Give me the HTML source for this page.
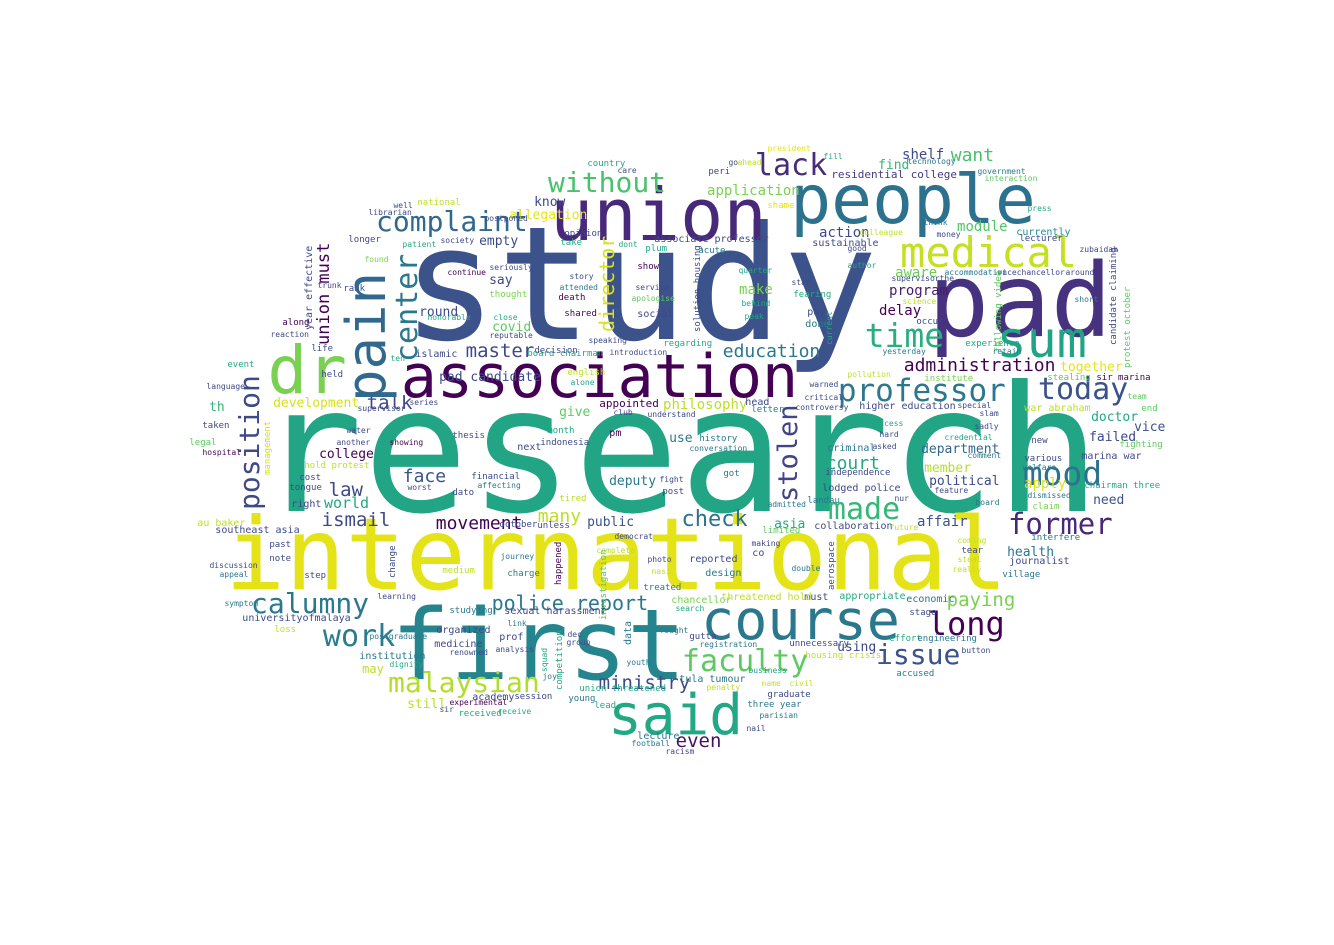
<!DOCTYPE html>
<html>
<head>
<meta charset="utf-8">
<style>
html,body{margin:0;padding:0;background:#fff;}
#cloud{position:relative;width:1334px;height:945px;overflow:hidden;background:#fff;}
#cloud span{position:absolute;white-space:pre;line-height:1;font-family:"DejaVu Sans Mono","Liberation Mono",monospace;}
</style>
</head>
<body>
<div id="cloud"></div>
<script>
// word data: [text, x, baseline, size, color]
const horizontalWords = [
['research',270,512,175,'#21a585'],
['international',232,590,100,'#e4e318'],
['study',413,340,158,'#3b528b'],
['first',398,680,98,'#25858e'],
['pad',935,337,102,'#46327e'],
['people',795,225,68,'#2c728e'],
['union',555,240,72,'#482878'],
['association',405,398,60,'#440154'],
['course',705,640,55,'#2a788e'],
['said',612,735,56,'#22a884'],
['medical',903,268,42,'#c5e021'],
['sum',1000,357,50,'#20a486'],
['dr',272,394,66,'#7ad151'],
['professor',840,402,31,'#2a788e'],
['time',867,347,33,'#29af7f'],
['today',1040,400,30,'#3b528b'],
['mood',1025,485,33,'#2c728e'],
['former',1010,535,29,'#482878'],
['long',930,635,32,'#440154'],
['issue',878,665,28,'#3b528b'],
['faculty',684,672,30,'#5ec962'],
['made',830,520,30,'#35b779'],
['lack',757,176,30,'#472c7a'],
['without',550,193,28,'#4ac16d'],
['complaint',378,232,28,'#31688e'],
['calumny',253,614,28,'#2a788e'],
['work',325,647,30,'#287d8e'],
['malaysian',390,693,28,'#b2dd2d'],
['check',683,528,22,'#2c728e'],
['ministry',600,690,19,'#3e4989'],
['police report',493,610,20,'#2a788e'],
['even',677,748,19,'#471063'],
['administration',905,372,18,'#440154'],
['education',724,358,18,'#2a788e'],
['master',467,358,19,'#3e4989'],
['talk',368,410,19,'#3e4989'],
['face',404,483,18,'#3b528b'],
['movement',437,530,18,'#440154'],
['ismail',323,527,19,'#3e4989'],
['law',330,497,19,'#3e4989'],
['world',325,509,15,'#22a884'],
['many',539,523,18,'#bddf26'],
['court',827,470,18,'#22a884'],
['paying',948,607,19,'#7ad151'],
['want',952,162,18,'#4ac16d'],
['philosophy',664,410,14,'#bddf26'],
['application',708,196,14,'#7ad151'],
['shelf',903,160,14,'#3e4a89'],
['find',879,170,13,'#35b779'],
['residential college',832,178,11,'#443a83'],
['action',820,238,14,'#3e4989'],
['module',958,232,14,'#52c569'],
['currently',1017,236,10,'#21908d'],
['sustainable',813,247,10,'#3e4989'],
['aware',896,278,14,'#6ccd5a'],
['program',890,296,14,'#481b6d'],
['delay',880,316,14,'#440154'],
['together',1061,372,13,'#e5e419'],
['department',922,454,13,'#31688e'],
['member',925,473,13,'#b5de2b'],
['political',930,486,13,'#3e4989'],
['affair',918,527,14,'#3b528b'],
['health',1008,557,13,'#2a788e'],
['apply',1025,489,14,'#d8e219'],
['need',1094,505,13,'#3b528b'],
['failed',1090,442,13,'#3e4989'],
['doctor',1092,422,13,'#22a884'],
['vice',1135,432,13,'#3b528b'],
['deputy',610,486,13,'#2a788e'],
['public',588,527,13,'#3b528b'],
['use',670,443,13,'#2a788e'],
['give',560,417,13,'#5ec962'],
['college',320,459,13,'#440154'],
['development',274,408,13,'#d8e219'],
['th',210,412,13,'#35b779'],
['round',420,317,13,'#3e4989'],
['covid',493,332,13,'#5ec962'],
['say',490,285,13,'#3e4989'],
['know',535,207,13,'#3e4989'],
['allegation',510,220,13,'#e5e419'],
['empty',480,246,13,'#3e4989'],
['pad candidate',440,382,13,'#3e4989'],
['appointed',600,407,11,'#440154'],
['using',838,652,13,'#3e4989'],
['appropriate',840,600,10,'#22a884'],
['southeast asia',216,534,10,'#3e4989'],
['asia',775,529,13,'#22a884'],
['still',408,709,13,'#bddf26'],
['tula tumour',680,683,10,'#2a788e'],
['chancellor',672,604,10,'#7ad151'],
['academy',473,701,10,'#3e4989'],
['universityofmalaya',243,622,10,'#3e4989'],
['make',740,295,14,'#7ad151'],
['journalist',1010,565,10,'#3e4989'],
['village',1003,579,9,'#2a788e'],
['interfere',1032,542,9,'#2a788e'],
['collaboration',815,530,10,'#3e4989'],
['lodged police',823,492,10,'#3e4989'],
['independence',826,477,9,'#3e4989'],
['criminal',828,452,10,'#2a788e'],
['higher education',860,410,10,'#3e4989'],
['institute',925,383,9,'#7ad151'],
['stealing',1048,382,9,'#5ec962'],
['sir marina',1097,382,9,'#440154'],
['war abraham',1025,412,10,'#bddf26'],
['marina war',1082,460,10,'#3e4989'],
['chairman three',1085,490,9,'#22a884'],
['fighting',1120,449,9,'#5ec962'],
['end',1142,413,9,'#5ec962'],
['team',1128,400,8,'#5ec962'],
['new',1032,445,9,'#3e4989'],
['various',1025,463,9,'#3e4989'],
['welfare',1023,471,8,'#2a788e'],
['claim',1033,511,9,'#7ad151'],
['dismissed',1028,499,8,'#2a788e'],
['history',700,443,9,'#2a788e'],
['conversation',690,452,8,'#2a788e'],
['got',724,478,9,'#2a788e'],
['post',663,496,9,'#3e4989'],
['fight',660,483,8,'#3e4989'],
['pm',610,437,10,'#440154'],
['month',548,435,9,'#22a884'],
['indonesia',541,447,9,'#3e4989'],
['next',518,451,10,'#3e4989'],
['thesis',453,440,9,'#3e4989'],
['showing',390,446,8,'#440154'],
['another',337,446,8,'#3e4989'],
['water',347,434,8,'#3e4989'],
['hold protest',305,470,9,'#bddf26'],
['right',292,508,10,'#3e4989'],
['cost',300,482,9,'#3e4989'],
['tongue',290,492,9,'#3e4989'],
['financial',472,481,9,'#3e4989'],
['affecting',478,489,8,'#2a788e'],
['dato',453,497,9,'#3e4989'],
['worst',408,491,8,'#3e4989'],
['legal',190,447,9,'#5ec962'],
['hospital',203,456,8,'#440154'],
['au baker',198,527,10,'#bddf26'],
['taken',203,430,9,'#3e4989'],
['language',207,390,8,'#3e4989'],
['event',228,369,9,'#22a884'],
['along',283,327,9,'#440154'],
['reaction',271,338,8,'#3e4989'],
['life',312,353,9,'#3e4989'],
['held',322,379,9,'#3e4989'],
['islamic',416,358,10,'#3e4989'],
['ten',391,362,8,'#22a884'],
['well',394,209,8,'#3e4989'],
['librarian',369,216,8,'#3e4989'],
['national',418,207,9,'#bddf26'],
['longer',349,244,9,'#3e4989'],
['patient',403,248,8,'#22a884'],
['society',441,244,8,'#3e4989'],
['found',365,263,8,'#7ad151'],
['continue',448,276,8,'#440154'],
['seriously',490,271,8,'#3e4989'],
['thought',490,299,9,'#7ad151'],
['trunk',318,289,8,'#3e4989'],
['rank',344,293,9,'#3e4989'],
['opinion',565,238,9,'#3e4989'],
['take',561,247,9,'#22a884'],
['postponed',485,222,8,'#3e4989'],
['death',559,302,9,'#440154'],
['attended',560,291,8,'#2a788e'],
['story',570,280,8,'#3e4989'],
['shared',565,318,9,'#440154'],
['close',494,321,8,'#22a884'],
['reputable',490,339,8,'#3e4989'],
['honorable',428,321,8,'#22a884'],
['decision',535,355,9,'#3e4989'],
['board chairman',528,358,9,'#22a884'],
['speaking',589,344,8,'#3e4989'],
['english',568,377,9,'#bddf26'],
['alone',571,386,8,'#22a884'],
['associate professor',655,243,10,'#3e4989'],
['plum',646,253,9,'#22a884'],
['show',638,271,9,'#440154'],
['dont',619,248,8,'#22a884'],
['service',636,291,8,'#3e4989'],
['apologise',632,302,8,'#5ec962'],
['social',638,318,10,'#3e4989'],
['regarding',664,348,9,'#22a884'],
['introduction',610,356,8,'#3e4989'],
['acute',699,255,9,'#2a788e'],
['quarter',739,274,8,'#22a884'],
['behind',742,307,8,'#22a884'],
['peak',745,320,8,'#22a884'],
['pay',808,316,10,'#3e4989'],
['done',806,328,10,'#2a788e'],
['fearing',794,299,9,'#22a884'],
['star',792,286,8,'#3e4989'],
['shame',768,210,9,'#e5e419'],
['peri',709,176,9,'#3e4989'],
['go',729,166,8,'#3e4989'],
['ahead',738,166,8,'#bddf26'],
['country',588,168,9,'#22a884'],
['care',618,174,8,'#3e4989'],
['president',768,152,8,'#e5e419'],
['fill',824,160,8,'#22a884'],
['government',978,175,8,'#2a788e'],
['interaction',985,182,8,'#5ec962'],
['technology',908,165,8,'#2a788e'],
['press',1028,212,8,'#22a884'],
['think',924,226,8,'#2a788e'],
['money',937,238,8,'#3e4989'],
['colleague',860,236,8,'#bddf26'],
['good',848,252,8,'#3e4989'],
['author',848,269,8,'#22a884'],
['lecturer',1020,243,9,'#3e4989'],
['zubaidah',1080,253,8,'#3e4989'],
['around',1066,276,8,'#3e4989'],
['short',1075,303,8,'#2a788e'],
['occur',917,326,9,'#3e4989'],
['science',903,305,8,'#bddf26'],
['supervisorthe',892,282,8,'#3e4989'],
['accommodation',945,276,8,'#2a788e'],
['vicechancellor',998,276,8,'#3e4989'],
['retain',993,355,8,'#2a788e'],
['yesterday',883,355,8,'#2a788e'],
['experience',966,348,9,'#22a884'],
['pollution',848,378,8,'#bddf26'],
['special',958,409,8,'#3e4989'],
['slam',980,417,8,'#3e4989'],
['sadly',975,430,8,'#3e4989'],
['credential',945,441,8,'#22a884'],
['comment',968,459,8,'#2a788e'],
['feature',935,494,8,'#3e4989'],
['board',976,506,8,'#2a788e'],
['tear',962,555,9,'#3e4989'],
['future',890,531,8,'#bddf26'],
['coming',958,544,8,'#bddf26'],
['steal',958,563,8,'#bddf26'],
['really',953,573,8,'#bddf26'],
['economic',907,603,10,'#2a788e'],
['effort',890,643,9,'#22a884'],
['engineering',918,643,9,'#2a788e'],
['stage',910,617,9,'#3e4989'],
['accused',897,678,9,'#2a788e'],
['button',962,654,8,'#3e4989'],
['business',749,674,8,'#22a884'],
['graduate',768,699,9,'#3e4989'],
['three year',748,709,9,'#2a788e'],
['parisian',760,719,8,'#2a788e'],
['nail',747,732,8,'#3e4989'],
['name',762,687,8,'#bddf26'],
['civil',790,687,8,'#bddf26'],
['housing crisis',806,660,9,'#bddf26'],
['unnecessary',790,648,9,'#3e4989'],
['registration',700,648,8,'#2a788e'],
['gutta',690,641,9,'#3e4989'],
['search',676,612,8,'#22a884'],
['fought',660,634,8,'#2a788e'],
['treated',644,592,9,'#2a788e'],
['design',706,577,10,'#2a788e'],
['reported',690,563,10,'#3e4989'],
['photo',648,563,8,'#3e4989'],
['nasi',652,575,8,'#bddf26'],
['medium',443,575,9,'#bddf26'],
['charge',508,578,9,'#2a788e'],
['step',305,580,9,'#3e4989'],
['note',270,563,9,'#3e4989'],
['past',270,549,9,'#3e4989'],
['discussion',210,569,8,'#3e4989'],
['appeal',220,578,8,'#2a788e'],
['symptom',225,607,8,'#2a788e'],
['loss',275,634,9,'#bddf26'],
['may',363,673,12,'#bddf26'],
['institution',360,660,10,'#2a788e'],
['dignity',390,668,8,'#22a884'],
['postgraduate',370,640,8,'#2a788e'],
['studying',450,615,9,'#2a788e'],
['organized',437,634,10,'#3e4989'],
['medicine',435,648,10,'#3e4989'],
['renowned',450,656,8,'#3e4989'],
['prof',500,641,10,'#3e4989'],
['link',508,627,8,'#2a788e'],
['analysis',496,653,8,'#3e4989'],
['sexual harassment',505,615,10,'#3e4989'],
['learning',378,600,8,'#3e4989'],
['received',459,718,9,'#22a884'],
['receive',498,715,8,'#22a884'],
['experimental',450,706,8,'#440154'],
['session',515,701,9,'#3e4989'],
['sir',440,713,8,'#3e4989'],
['joy',543,680,8,'#2a788e'],
['young',569,703,9,'#2a788e'],
['lead',595,710,9,'#22a884'],
['lecture',638,740,10,'#2a788e'],
['football',632,747,8,'#2a788e'],
['racism',666,755,8,'#3e4989'],
['union threatened',580,693,9,'#22a884'],
['penalty',707,691,8,'#bddf26'],
['youth',627,666,8,'#2a788e'],
['group',567,646,8,'#3e4989'],
['dec',568,638,8,'#3e4989'],
['journey',501,560,8,'#2a788e'],
['complete',597,554,8,'#bddf26'],
['double',792,572,8,'#2a788e'],
['must',805,601,10,'#3e4989'],
['threatened hold',722,601,10,'#bddf26'],
['making',752,547,8,'#3e4989'],
['co',753,557,10,'#3e4989'],
['limited',763,535,9,'#5ec962'],
['admitted',768,508,8,'#2a788e'],
['landau',808,505,9,'#2a788e'],
['nur',895,502,8,'#3e4989'],
['tired',560,503,9,'#bddf26'],
['october',500,529,9,'#3e4989'],
['unless',538,530,9,'#3e4989'],
['democrat',615,540,8,'#3e4989'],
['asked',873,450,8,'#3e4989'],
['hard',880,438,8,'#3e4989'],
['access',875,427,8,'#22a884'],
['letter',752,414,9,'#2a788e'],
['head',746,406,10,'#3e4989'],
['understand',648,418,8,'#3e4989'],
['club',614,416,8,'#3e4989'],
['series',410,406,8,'#3e4989'],
['supervisor',358,412,8,'#3e4989'],
['critical',805,401,8,'#3e4989'],
['controversy',796,411,8,'#3e4989'],
['warned',810,388,8,'#3e4989']
];
// vertical words: [text, x, bottom, size, color]
const verticalWords = [
['pain',340,402,54,'#31688e'],
['center',393,362,30,'#2a788e'],
['position',236,510,28,'#3e4989'],
['union must',316,345,17,'#440154'],
['director',597,332,20,'#d8e219'],
['stolen',775,502,27,'#414487'],
['year effective',305,330,10,'#3e4989'],
['management',264,475,9,'#d8e219'],
['candidate claiming',1110,345,9,'#3e4989'],
['protest october',1124,368,9,'#5ec962'],
['following video',995,352,9,'#5ec962'],
['solution housing',694,332,9,'#3e4989'],
['aerospace',828,590,9,'#3e4989'],
['investigation',600,620,9,'#5ec962'],
['competition',556,690,9,'#22a884'],
['happened',555,585,9,'#440154'],
['change',389,578,9,'#3e4989'],
['current',826,345,8,'#22a884'],
['data',624,645,10,'#2a788e'],
['squad',541,672,8,'#22a884']
];

const cloud = document.getElementById('cloud');
function slug(t){return t.toLowerCase().replace(/[^a-z0-9]+/g,'-');}
horizontalWords.forEach(function(w){
  const s = document.createElement('span');
  s.textContent = w[0];
  
  
  const size = w[3];
  s.style.fontSize = size + 'px';
  s.style.color = w[4];
  s.style.left = (w[1] - 0.07*size) + 'px';
  s.style.top = (w[2] - 0.846*size) + 'px';
  cloud.appendChild(s);
});
verticalWords.forEach(function(w){
  const s = document.createElement('span');
  s.textContent = w[0];
  
  
  const size = w[3];
  s.style.fontSize = size + 'px';
  s.style.color = w[4];
  s.style.left = '0px';
  s.style.top = '0px';
  s.style.transformOrigin = '0 0';
  s.style.transform = 'translate(' + w[1] + 'px,' + w[2] + 'px) rotate(-90deg)';
  cloud.appendChild(s);
});
</script>
</body>
</html>
